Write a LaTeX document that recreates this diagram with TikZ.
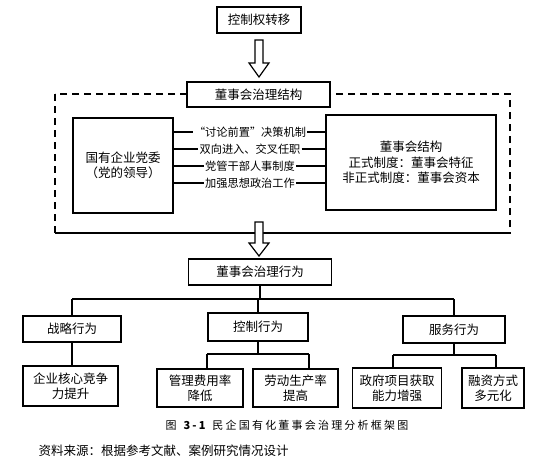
\documentclass[tikz,border=0pt]{standalone}
\usepackage{fontspec}
\setmainfont{Noto Sans CJK SC}
\usetikzlibrary{calc}
\begin{document}
\begin{tikzpicture}[x=1pt,y=-1pt,
  box/.style={draw, line width=1.3pt, fill=white, inner sep=0pt, align=center,
    font=\fontsize{12.5}{15.5}\selectfont},
  lbl/.style={fill=white, inner sep=1pt, font=\fontsize{11.2}{13}\selectfont},
  stem/.style={line width=1.1pt},
  branch/.style={line width=2pt},
  drop/.style={line width=1.5pt},
  hollow/.style={line width=1.2pt, fill=white},
  dashbox/.style={dash pattern=on 7pt off 5pt}]
\useasboundingbox (0,0) rectangle (546,469);
\fill[white] (0,0) rectangle (546,469);

% top
\node[box, minimum width=84pt, minimum height=26pt] (b1) at (259,20) {控制权转移};
\draw[hollow] (255,40) -- (263,40) -- (263,63) -- (269,63) -- (259,77) -- (249,63) -- (255,63) -- cycle;

% dashed frame
\draw[dashbox, line width=1.2pt] (55,94) rectangle (510,233);
\draw[dashbox, line width=2.3pt] (55,233) -- (510,233);
\node[box, minimum width=143pt, minimum height=25pt] (b2) at (258.5,94.5) {董事会治理结构};

\node[box, minimum width=100pt, minimum height=95pt] (L) at (123,165.5) {国有企业党委\\（党的领导）};
\node[box, minimum width=170pt, minimum height=95pt] (R) at (411,162.5) {董事会结构\\正式制度：董事会特征\\非正式制度：董事会资本};

\node[lbl] (t1) at (250,132) {“讨论前置”决策机制};
\node[lbl] (t2) at (250,149) {双向进入、交叉任职};
\node[lbl] (t3) at (250,166) {党管干部人事制度};
\node[lbl] (t4) at (250,183) {加强思想政治工作};
\draw[line width=2.2pt] (L.east |- t1) -- (t1.west);
\draw[line width=2.2pt] (t1.east) -- (R.west |- t1);
\draw[line width=1.3pt] (L.east |- t2) -- (t2.west);
\draw[line width=1.3pt] (t2.east) -- (R.west |- t2);
\draw[line width=1.3pt] (L.east |- t3) -- (t3.west);
\draw[line width=1.3pt] (t3.east) -- (R.west |- t3);
\draw[line width=2.2pt] (L.east |- t4) -- (t4.west);
\draw[line width=2.2pt] (t4.east) -- (R.west |- t4);

\draw[hollow] (255,222) -- (263,222) -- (263,243) -- (269,243) -- (259,256) -- (249,243) -- (255,243) -- cycle;

% behaviour tree
\node[box, minimum width=143pt, minimum height=26pt] (b3) at (260,272) {董事会治理行为};
\node[box, minimum width=98pt, minimum height=26pt] (s1) at (72,329) {战略行为};
\node[box, minimum width=100pt, minimum height=28pt] (s2) at (258,327) {控制行为};
\node[box, minimum width=102pt, minimum height=27pt] (s3) at (454,329.5) {服务行为};

\coordinate (h) at (0,299);
\draw[stem] (b3.south) -- (b3.south |- h);
\draw[branch] (s1.north |- h) -- (s3.north |- h);
\draw[stem] (s1.north |- h) -- (s1.north);
\draw[stem] (s2.north |- h) -- (s2.north);
\draw[stem] (s3.north |- h) -- (s3.north);

\node[box, minimum width=95pt, minimum height=40pt] (c1) at (70.5,386) {企业核心竞争\\力提升};
\node[box, minimum width=86pt, minimum height=38pt] (c2) at (200,388) {管理费用率\\降低};
\node[box, minimum width=85pt, minimum height=38pt] (c3) at (295.5,388) {劳动生产率\\提高};
\node[box, minimum width=89pt, minimum height=40pt] (c4) at (397,388) {政府项目获取\\能力增强};
\node[box, minimum width=62pt, minimum height=40pt] (c5) at (493,388) {融资方式\\多元化};

\draw[stem] (s1.south) -- (s1.south |- c1.north);

\coordinate (k1) at (207,354);
\coordinate (k2) at (309,354);
\draw[stem] (s2.south) -- (s2.south |- k1);
\draw[branch] (k1) -- (k2);
\draw[drop] (k1) -- (k1 |- c2.north);
\draw[drop] (k2) -- (k2 |- c3.north);

\coordinate (m1) at (393,355);
\coordinate (m2) at (496,355);
\draw[stem] (s3.south) -- (s3.south |- m1);
\draw[branch] (m1) -- (m2);
\draw[drop] (m1) -- (m1 |- c4.north);
\draw[drop] (m2) -- (m2 |- c5.north);

% caption and source
\node[font=\fontsize{11}{13}\selectfont\addfontfeature{LetterSpace=20}] (cap) at (287,425) {图 \textbf{3-1} 民企国有化董事会治理分析框架图};
\node[anchor=west, font=\fontsize{12.5}{14}\selectfont] (src) at (35,451) {资料来源：根据参考文献、案例研究情况设计};
\end{tikzpicture}
\end{document}
